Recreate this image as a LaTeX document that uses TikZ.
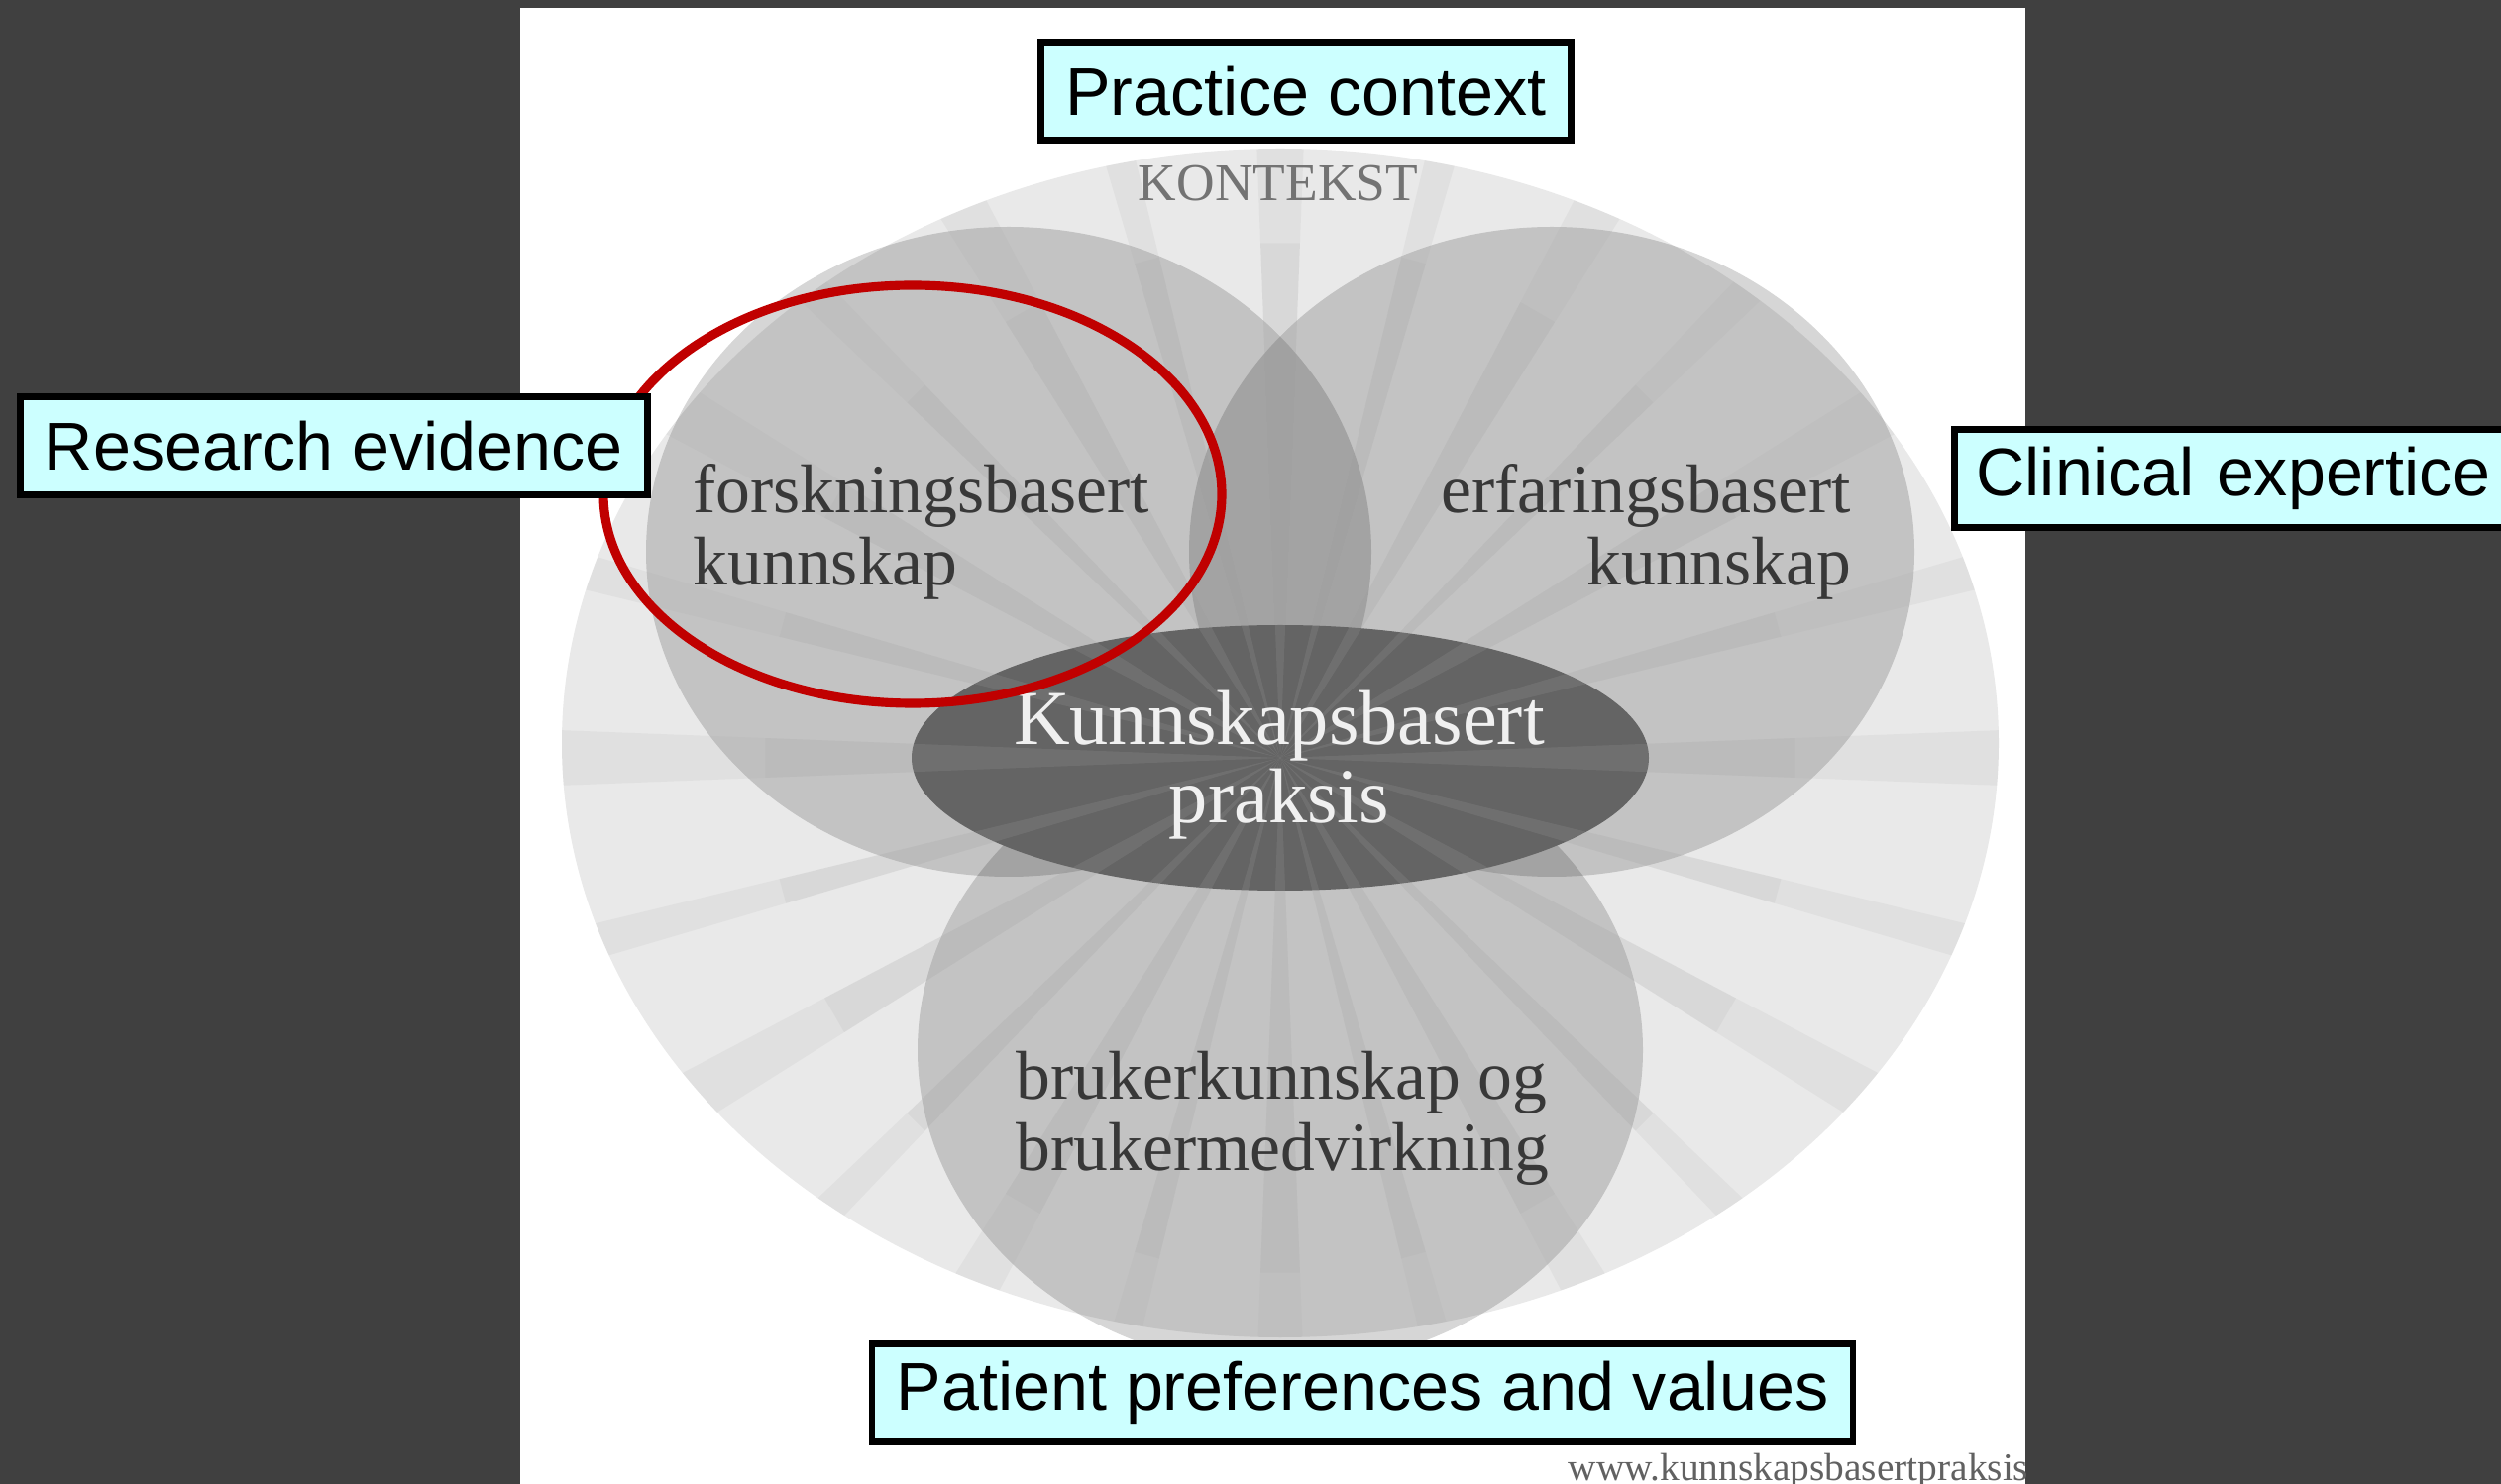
\documentclass[tikz,border=0pt]{standalone}
\usepackage{fontspec}
\setmainfont{Liberation Serif}
\newfontfamily\boxfont{Liberation Sans}
\definecolor{slidebg}{HTML}{404040}
\definecolor{boxcyan}{HTML}{CCFFFF}
\definecolor{ringred}{HTML}{C00000}
\definecolor{ctxgray}{HTML}{E9E9E9}
\definecolor{kbpdark}{HTML}{646464}
\definecolor{kbptext}{HTML}{383838}
\definecolor{raygray}{HTML}{A0A0A0}
\tikzset{
  caption/.style={draw=black,line width=1.9pt,fill=boxcyan,font=\boxfont\fontsize{19.4}{22}\selectfont,inner xsep=7pt,minimum height=28pt},
  petal/.style={fill=black,fill opacity=0.16},
  ray/.style={fill=raygray,fill opacity=0.11},
  petaltext/.style={font=\fontsize{19.8}{20.6}\selectfont,text=kbptext,align=left,inner sep=0pt}
}

\begin{document}
\begin{tikzpicture}[x=0.01cm,y=-0.01cm]
  \useasboundingbox (0,0) rectangle (2524,1498);
  % slide and white panel
  \fill[slidebg] (0,0) rectangle (2524,1498);
  \fill[white] (525,8) rectangle (2044,1498);

  \coordinate (ctr) at (1292,765);

  % context, the three knowledge sources and the centre
  \fill[ctxgray] (1292,750) ellipse [x radius=725,y radius=600];
  \fill[petal] (1018,557) ellipse [x radius=366,y radius=328];
  \fill[petal] (1566,557) ellipse [x radius=366,y radius=328];
  \fill[petal] (1292,1060) ellipse [x radius=366,y radius=320];
  \fill[kbpdark] (ctr) ellipse [x radius=372,y radius=134];

  % rays out of the centre, stronger near the middle
  \begin{scope}
    \clip (1292,750) ellipse [x radius=725,y radius=600];
    \foreach \a in {0,30,...,330}{
      \fill[ray] (ctr) -- +(\a-2.2:1600) -- +(\a+2.2:1600) -- cycle;
      \fill[ray] (ctr) -- +(\a-2.2:520) -- +(\a+2.2:520) -- cycle;
    }
    \foreach \a in {15,45,...,345}{
      \fill[ray] (ctr) -- +(\a-1.4:1600) -- +(\a+1.4:1600) -- cycle;
      \fill[ray] (ctr) -- +(\a-1.4:520) -- +(\a+1.4:520) -- cycle;
    }
  \end{scope}

  \node[font=\fontsize{15.2}{16}\selectfont,text=black!55,inner sep=0pt] (kontekst) at (1290,185) {KONTEKST};
  \node[petaltext,anchor=west] (forsk) at (699,537) {forskningsbasert\\kunnskap};
  \node[petaltext,anchor=east,align=right] (erfar) at (1869,537) {erfaringsbasert\\kunnskap};
  \node[petaltext,anchor=west] (bruker) at (1025,1129) {brukerkunnskap og\\brukermedvirkning};
  \node[font=\fontsize{22.3}{22.5}\selectfont,text=white!94!black,align=center,inner sep=0pt] (kbp) at (1291,772) {Kunnskapsbasert\\praksis};

  \begin{scope}
    \clip (525,8) rectangle (2044,1498);
    \node[font=\fontsize{11.2}{12}\selectfont,text=black!62,anchor=base west,inner sep=0pt] (web) at (1582,1494) {www.kunnskapsbasertpraksis};
  \end{scope}

  % highlight
  \draw[ringred,line width=2.6pt] (921,499) ellipse [x radius=312,y radius=211];

  % English captions
  \node[caption] (practice) at (1318,92) {Practice context};
  \node[caption] (research) at (337,450) {Research evidence};
  \node[caption,anchor=west,text width=160pt,align=left,inner xsep=6.3pt] (clinical) at (1969,483) {Clinical expertice};
  \node[caption] (patient) at (1375,1406) {Patient preferences and values};
\end{tikzpicture}
\end{document}
